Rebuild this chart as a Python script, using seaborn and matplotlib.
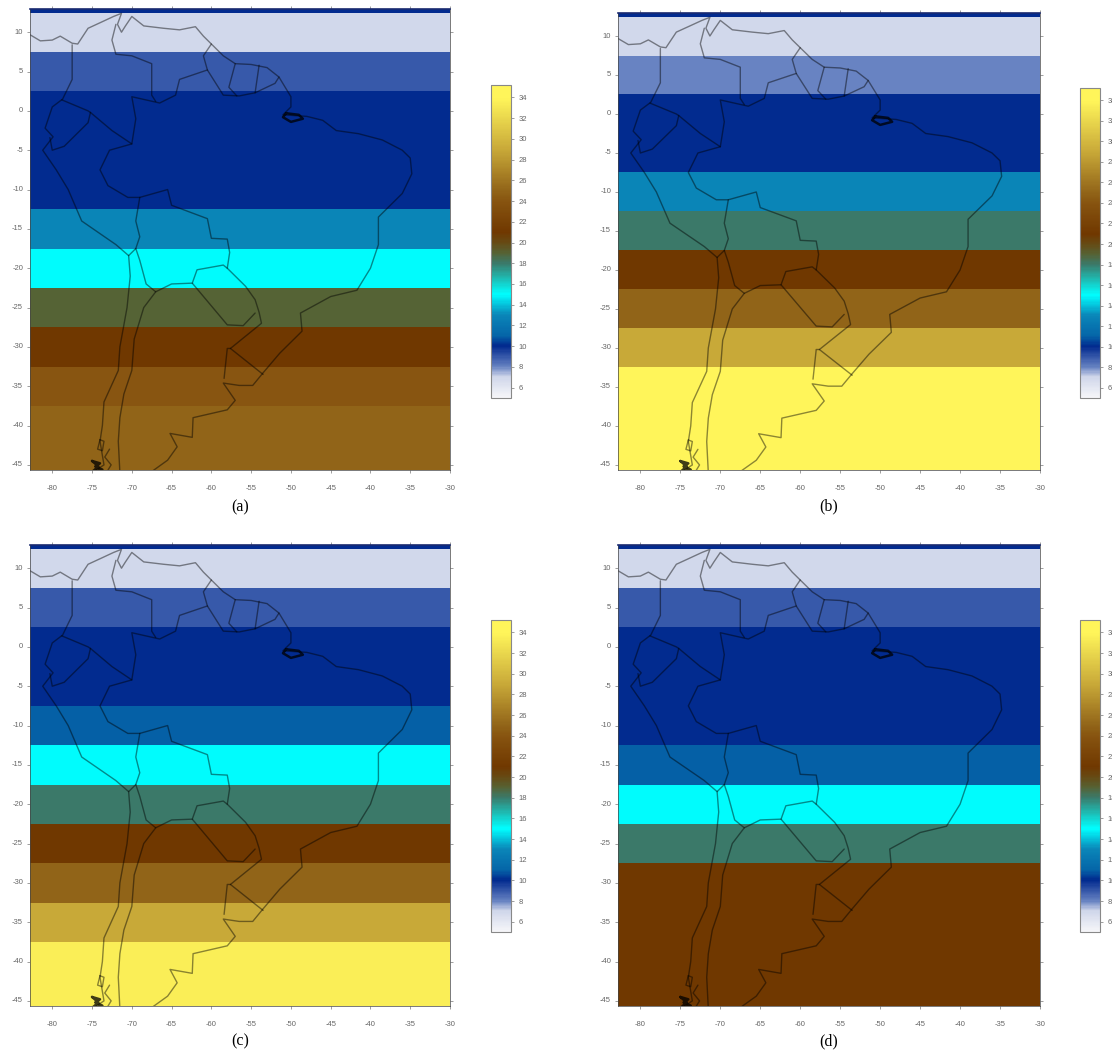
import numpy as np
import pandas as pd
import matplotlib
matplotlib.use('Agg')
import matplotlib.pyplot as plt
import seaborn as sns
from matplotlib.colors import LinearSegmentedColormap

lats = [15, 10, 5, 0, -5, -10, -15, -20, -25, -30, -35, -40, -45]
lons = [-85, -80, -75, -70, -65, -60, -55, -50, -45, -40, -35, -30]

vals_a = [10, 7, 9, 10, 10, 10, 13, 15, 19, 21, 24, 25, 25]
vals_b = [10, 7, 8, 10, 10, 13, 18, 21, 25, 29, 34, 34, 34]
vals_c = [10, 7, 9, 10, 10, 11, 15, 18, 21, 25, 29, 33.5, 33.5]
vals_d = [10, 7, 9, 10, 10, 10, 11, 15, 18, 21, 21, 21, 21]
cbar_ticks = list(range(6, 35, 2))

# coast + borders, (lon, lat)
coast = [(-83, 9.8), (-81.5, 8.9), (-80, 9), (-79, 9.5), (-77.5, 8.6), (-76.8, 8.5), (-75.5, 10.5), (-74, 11.2),
         (-72.3, 12), (-71.3, 12.4), (-71.8, 11), (-71.3, 10), (-70.8, 10.8), (-70, 12), (-68.5, 10.8), (-66, 10.5),
         (-64, 10.3), (-62, 10.7), (-61, 9.5), (-60, 8.5), (-58.5, 7), (-57, 6), (-55, 5.9), (-53, 5.5),
         (-51.5, 4.3), (-50, 1.8), (-50, 0.5), (-51, -0.5), (-48, -0.7), (-46, -1.2), (-44.3, -2.5), (-41.5, -2.9),
         (-38.5, -3.7), (-36, -5), (-35, -6), (-34.8, -8), (-36, -10.5), (-37.5, -12), (-39, -13.5), (-39, -17),
         (-40, -20), (-41.7, -22.8), (-45, -23.6), (-48.8, -25.7), (-48.6, -28), (-51.4, -30.8), (-53.5, -33.3),
         (-54.8, -34.9), (-56.5, -34.9), (-58.5, -34.6), (-57, -36.8), (-58, -38), (-62.3, -39), (-62.4, -41.5),
         (-65.2, -41), (-64.3, -42.7), (-65.5, -44.4), (-67.7, -46)]
pacific = [(-77.5, 8.4), (-77.5, 4), (-78.7, 1.5), (-80, 0.5), (-80.9, -2.2), (-79.9, -3.3), (-81.2, -5), (-79.5, -7.5),
           (-78, -10), (-76.3, -14), (-72, -17), (-70.4, -18.4), (-70.2, -21), (-70.6, -25), (-71.5, -30),
           (-71.7, -33), (-73.5, -37), (-73.7, -40), (-74, -42), (-73.5, -45), (-75, -46)]
borders = [
    [(-72, 11), (-72.5, 9), (-72, 7.2), (-70, 7), (-67.5, 6), (-67.5, 2), (-67, 1.2)],
    [(-60, 8.5), (-61, 7), (-60.5, 5.2), (-64, 4), (-64.5, 2), (-66.5, 1), (-70, 1.8), (-69.5, -1), (-70, -4.2),
     (-72.8, -5), (-74, -7.5), (-73, -9.5), (-70.5, -11), (-69, -11), (-65.5, -10), (-65, -12), (-60.5, -13.7),
     (-60, -16.2), (-58, -16.3), (-57.7, -18), (-58, -20), (-55.7, -22.3), (-54.5, -24), (-54, -25.6), (-53.7, -27),
     (-57.6, -30.2), (-53.5, -33.5)],
    [(-60.5, 5.2), (-58.5, 2), (-56.5, 1.9), (-54.5, 2.3), (-52, 3.5), (-51.5, 4.3)],
    [(-57, 6), (-57.8, 3), (-56.8, 1.9)],
    [(-54, 5.8), (-54.5, 2.3)],
    [(-80.3, -3.4), (-80, -5), (-78.5, -4.5), (-75.5, -1.5), (-75.2, -0.2)],
    [(-78.8, 1.4), (-75.5, 0), (-75.2, -0.2), (-72.5, -2.5), (-70, -4.2)],
    [(-69, -11), (-69.5, -14), (-69, -16), (-69.5, -17.5), (-70.4, -18.4)],
    [(-69.5, -17.5), (-69, -19), (-68.2, -22), (-67, -23), (-68.5, -25), (-69.7, -29), (-70, -33), (-71, -36),
     (-71.5, -39), (-71.7, -42), (-71.5, -46)],
    [(-67, -23), (-65, -22), (-62.4, -21.9), (-61.8, -20.2), (-58.5, -19.6), (-58, -20)],
    [(-62.4, -21.9), (-58, -27.2), (-56, -27.3), (-54.5, -25.7)],
    [(-58.4, -34), (-58, -30.2), (-57.6, -30.2)],
    [(-74, -41.8), (-73.5, -42), (-73.7, -43.2), (-74.3, -43), (-74, -41.8)],
    [(-72.8, -43), (-73.4, -44), (-72.6, -45), (-73.2, -46)],
]
# the two places where the map lines clot together
knots = [
    [(-50.6, -0.3), (-49, -0.5), (-48.5, -1), (-50, -1.4), (-51, -0.8), (-50.6, -0.3)],
    [(-75, -44.5), (-74, -44.8), (-74.6, -45.2), (-73.7, -45.6), (-75, -45.9), (-74.2, -45.2), (-75, -44.5)],
]

cmap_nodes = [(5, '#f6f6f9'), (7, '#cfd6ea'), (8, '#6480c0'), (9, '#3355a8'), (10, '#012a8e'), (11, '#0565a8'),
              (13, '#0a86b8'), (15, '#00ffff'), (18, '#3a7a6a'), (19, '#566234'), (20, '#664a14'), (21, '#703800'),
              (24, '#875410'), (25, '#916418'), (29, '#c8a838'), (34, '#fff55a'), (35.2, '#fff55a')]
vmin, vmax = 5, 35.2
cmap = LinearSegmentedColormap.from_list(
    'bands', [((v - vmin) / (vmax - vmin), c) for v, c in cmap_nodes], N=256)

W, H = 1112, 1052
fig = plt.figure(figsize=(W / 100, H / 100), dpi=100)
sns.set_style('white')
plt.rcParams['font.family'] = ['Liberation Sans', 'DejaVu Sans']


def px_axes(x0, y0, x1, y1):
    return fig.add_axes([x0 / W, 1 - y1 / H, (x1 - x0) / W, (y1 - y0) / H])


def to_cell(pts):
    pts = np.array(pts)
    return (pts[:, 0] - lons[0]) / 5 + 0.5, (lats[0] - pts[:, 1]) / 5 + 0.5


def draw_panel(vals, box, cbox, name, name_xy):
    ax = px_axes(*box)
    cax = px_axes(*cbox)
    table = pd.DataFrame(np.tile(np.array(vals, float)[:, None], (1, len(lons))), index=lats, columns=lons)
    sns.heatmap(table, ax=ax, cbar_ax=cax, cmap=cmap, vmin=vmin, vmax=vmax,
                cbar_kws={'ticks': cbar_ticks}, xticklabels=lons, yticklabels=lats)
    for line in [coast, pacific] + borders:
        xs, ys = to_cell(line)
        ax.plot(xs, ys, color='black', alpha=0.45, lw=1.0)
    for line in knots:
        xs, ys = to_cell(line)
        ax.plot(xs, ys, color='black', alpha=0.75, lw=1.8)
    x_lim, _ = to_cell([(-82.8, 0), (-30, 0)])
    _, y_lim = to_cell([(0, -45.65), (0, 12.95)])
    ax.set_xlim(x_lim)
    ax.set_ylim(y_lim)
    ax.set_xlabel('')
    ax.set_ylabel('')
    ax.tick_params(axis='both', labelsize=5.5, labelcolor='#666666', color='#777777', length=2.5,
                   width=0.5, top=True, right=True, left=True, bottom=True)
    ax.tick_params(axis='y', labelrotation=0, pad=2.5)
    ax.tick_params(axis='x', labelrotation=0, pad=8)
    for s in ax.spines.values():
        s.set_visible(True)
        s.set_linewidth(0.5)
        s.set_color('#444444')
    ax.spines['top'].set_color('#1a2a70')
    ax.spines['top'].set_linewidth(1.2)
    cb = ax.collections[0].colorbar
    cb.outline.set_visible(True)
    cb.outline.set_linewidth(0.8)
    cb.outline.set_edgecolor('#888888')
    cax.tick_params(labelsize=5.5, labelcolor='#666666', color='#777777', length=2.5, width=0.5, pad=3)
    fig.text(name_xy[0] / W, 1 - name_xy[1] / H, name, family='Liberation Serif', fontsize=11.5,
             ha='center', va='center', color='black')


draw_panel(vals_a, (30, 9, 450, 470), (491, 85, 511, 398), '(a)', (240, 507))
draw_panel(vals_b, (618, 13, 1040, 470), (1080, 88, 1100, 398), '(b)', (829, 506))
draw_panel(vals_c, (30, 545, 450, 1006), (491, 620, 511, 932), '(c)', (240, 1041))
draw_panel(vals_d, (618, 545, 1040, 1006), (1080, 620, 1100, 932), '(d)', (829, 1041))

fig.savefig('out.png', dpi=100)
plt.close(fig)
